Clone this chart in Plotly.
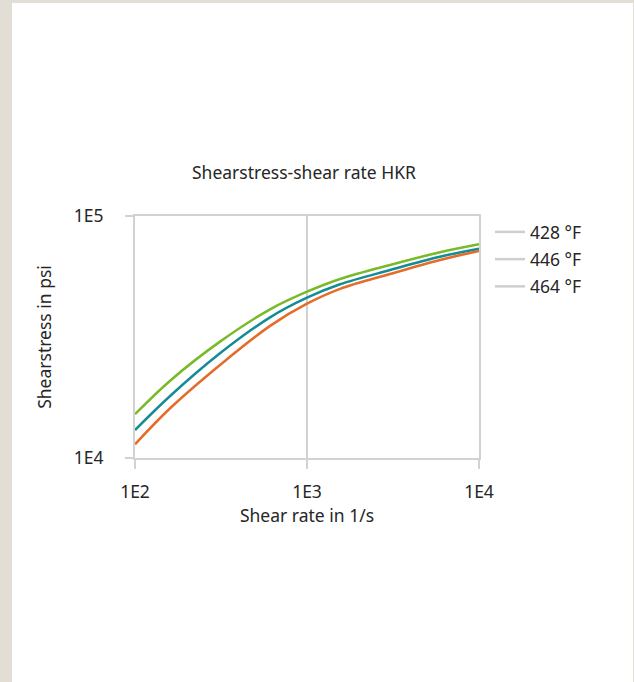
import plotly.graph_objects as go

# Data
shear_rate = [100, 160, 312, 610, 1000, 1556, 3040, 5930, 10000]
stress_428 = [15170, 20870, 30260, 41150, 48660, 54940, 62770, 70800, 76400]
stress_446 = [13050, 18040, 27080, 38130, 45960, 52220, 59810, 67880, 73260]
stress_464 = [11390, 16050, 24230, 35160, 43400, 50000, 57600, 65800, 71680]
series_names = ["428 °F", "446 °F", "464 °F"]
series_values = [stress_428, stress_446, stress_464]
series_colors = ["#7AB929", "#138C96", "#E46C2A"]
x_tickvals = [100, 1000, 10000]
x_ticktext = ["1E2", "1E3", "1E4"]
y_tickvals = [10000, 100000]
y_ticktext = ["1E4", "1E5"]

FONT = "Noto Sans"
FS = 17.5
TXT = "#262626"
GRID = "#d2d2d2"

fig = go.Figure()
for name, vals, col in zip(series_names, series_values, series_colors):
    fig.add_trace(go.Scatter(x=shear_rate, y=vals, mode="lines",
                             line=dict(color=col, width=2.5, shape="spline", smoothing=1.0),
                             showlegend=False, legendgroup=name, hoverinfo="x+y"))
# legend entries (grey symbols as in reference)
for name in series_names:
    fig.add_trace(go.Scatter(x=[None], y=[None], mode="lines", name=name,
                             line=dict(color="#cfcfcf", width=2.5),
                             legendgroup=name, showlegend=True))

L, R, T, B = 135, 479, 216, 458
W, H = 634, 682
pw, ph = R - L, B - T

def px_x(p):
    return (p - L) / pw

def px_y(p):
    return (B - p) / ph

fig.update_layout(
    width=W, height=H,
    margin=dict(l=L, r=W - R, t=T, b=H - B, pad=0),
    paper_bgcolor="#e2ded6",
    plot_bgcolor="white",
    font=dict(family=FONT, size=FS, color=TXT),
    showlegend=True,
    legend=dict(x=px_x(490), y=px_y(214), xanchor="left", yanchor="top",
                bgcolor="rgba(0,0,0,0)", font=dict(size=FS, color=TXT),
                traceorder="grouped", tracegroupgap=1.5, itemwidth=30),
    shapes=[dict(type="rect", xref="paper", yref="paper", layer="below",
                 x0=px_x(12), x1=px_x(633), y0=px_y(H + 5), y1=px_y(3),
                 fillcolor="white", line=dict(width=0))],
    annotations=[dict(text="Shearstress-shear rate HKR", xref="paper", yref="paper",
                      x=px_x(304), y=px_y(172), xanchor="center", yanchor="middle",
                      showarrow=False, font=dict(size=FS, color=TXT))],
)
fig.update_xaxes(type="log", range=[2, 4], tickvals=x_tickvals, ticktext=x_ticktext,
                 showgrid=True, gridcolor=GRID, gridwidth=2,
                 showline=True, linecolor=GRID, linewidth=2, mirror=True,
                 ticks="outside", ticklen=9, tickwidth=2, tickcolor=GRID,
                 ticklabelstandoff=8,
                 title=dict(text="Shear rate in 1/s", standoff=4, font=dict(size=FS)),
                 zeroline=False)
fig.update_yaxes(type="log", range=[4, 5], tickvals=y_tickvals, ticktext=y_ticktext,
                 showgrid=True, gridcolor=GRID, gridwidth=2,
                 showline=True, linecolor=GRID, linewidth=2, mirror=True,
                 ticks="outside", ticklen=8, tickwidth=2, tickcolor=GRID,
                 ticklabelstandoff=18,
                 title=dict(text="Shearstress in psi", standoff=18, font=dict(size=FS)),
                 zeroline=False)

fig.write_html("out.html", config={"displayModeBar": False},
               post_script="document.body.style.margin='0';")
